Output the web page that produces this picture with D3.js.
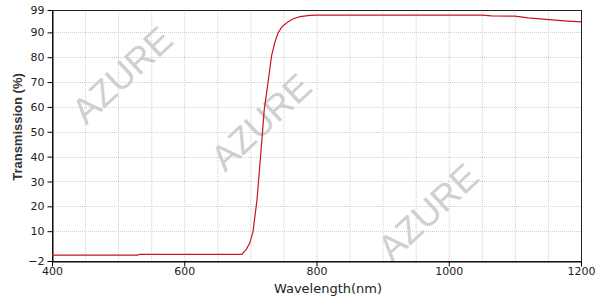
<!DOCTYPE html>
<html><head><meta charset="utf-8">
<script src="https://cdn.jsdelivr.net/npm/d3@7"></script>
<style>body{margin:0;background:#fff}</style>
</head><body>
<svg id="c" width="600" height="300"></svg>
<script>
const wavelength = [400,530,532,687,694,699,704,710,716,721,727,732,737,742,748,756,765,775,790,800,900,1000,1050,1065,1100,1120,1147,1175,1200];
const transmission = [0.4,0.4,0.7,0.7,2.8,5.1,9.8,22.6,42,59,70.5,80.4,86,89.8,92.3,94.1,95.5,96.3,96.8,96.9,96.9,96.9,96.9,96.6,96.5,95.8,95.2,94.6,94.2];
const xTicks = [400,600,800,1000,1200];
const yTicks = [-2,10,20,30,40,50,60,70,80,90,99];
const xGrid = d3.range(450,1200,50);
const yGrid = [10,20,30,40,50,60,70,80,90];
const watermarks = [[122,75],[261,122],[428,212]];

const svg = d3.select('#c');
const L=52,R=581,T=10,B=261;
const x = d3.scaleLinear().domain([400,1200]).range([L,R]);
const y = d3.scaleLinear().domain([-2,99]).range([B,T]);

const g = svg.append('g');
g.selectAll('.vg').data(xGrid).enter().append('line')
 .attr('x1',d=>x(d)+0.5).attr('x2',d=>x(d)+0.5).attr('y1',T).attr('y2',B)
 .attr('stroke','#cfcfcf').attr('stroke-dasharray','1,1');
g.selectAll('.hg').data(yGrid).enter().append('line')
 .attr('y1',d=>Math.round(y(d))+0.5).attr('y2',d=>Math.round(y(d))+0.5).attr('x1',L).attr('x2',R)
 .attr('stroke','#cfcfcf').attr('stroke-dasharray','1,1');

svg.selectAll('.wm').data(watermarks).enter().append('text')
 .attr('transform',d=>`translate(${d[0]},${d[1]}) rotate(-43)`)
 .attr('text-anchor','middle').attr('dominant-baseline','central')
 .attr('font-family','Liberation Sans, Arial, sans-serif').attr('font-size',36)
 .attr('fill','#cfcfcf').text('AZURE');

svg.append('rect').attr('x',L+0.5).attr('y',T+0.5).attr('width',R-L).attr('height',B-T)
 .attr('fill','none').attr('stroke','#222');

const xa = svg.append('g').attr('transform',`translate(0,${B+0.5})`)
 .call(d3.axisBottom(x).tickValues(xTicks).tickSize(5).tickSizeOuter(0).tickFormat(d3.format('d')));
const ya = svg.append('g').attr('transform',`translate(${L+0.5},0)`)
 .call(d3.axisLeft(y).tickValues(yTicks).tickSize(5).tickSizeOuter(0).tickFormat(d3.format('d')));
[xa,ya].forEach(a=>{
  a.select('.domain').attr('stroke','#000');
  a.selectAll('line').attr('stroke','#000');
  a.selectAll('text').attr('font-family','DejaVu Sans, Verdana, sans-serif').attr('font-size',11).attr('fill','#222');
});
xa.selectAll('text').attr('y',6);

const line = d3.line().x((d,i)=>x(wavelength[i])).y(d=>y(d));
svg.append('path').datum(transmission).attr('d',line)
 .attr('fill','none').attr('stroke','#cc1420').attr('stroke-width',1.2);

svg.append('text').attr('x',328).attr('y',293).attr('text-anchor','middle')
 .attr('font-family','DejaVu Sans, Verdana, sans-serif').attr('font-size',13).attr('fill','#222')
 .text('Wavelength(nm)');
svg.append('text').attr('transform','translate(22,127) rotate(-90)').attr('text-anchor','middle')
 .attr('font-family','Liberation Sans, Arial, sans-serif').attr('font-weight','bold').attr('font-size',13).attr('fill','#333')
 .text('Transmission (%)');
</script>
</body></html>
